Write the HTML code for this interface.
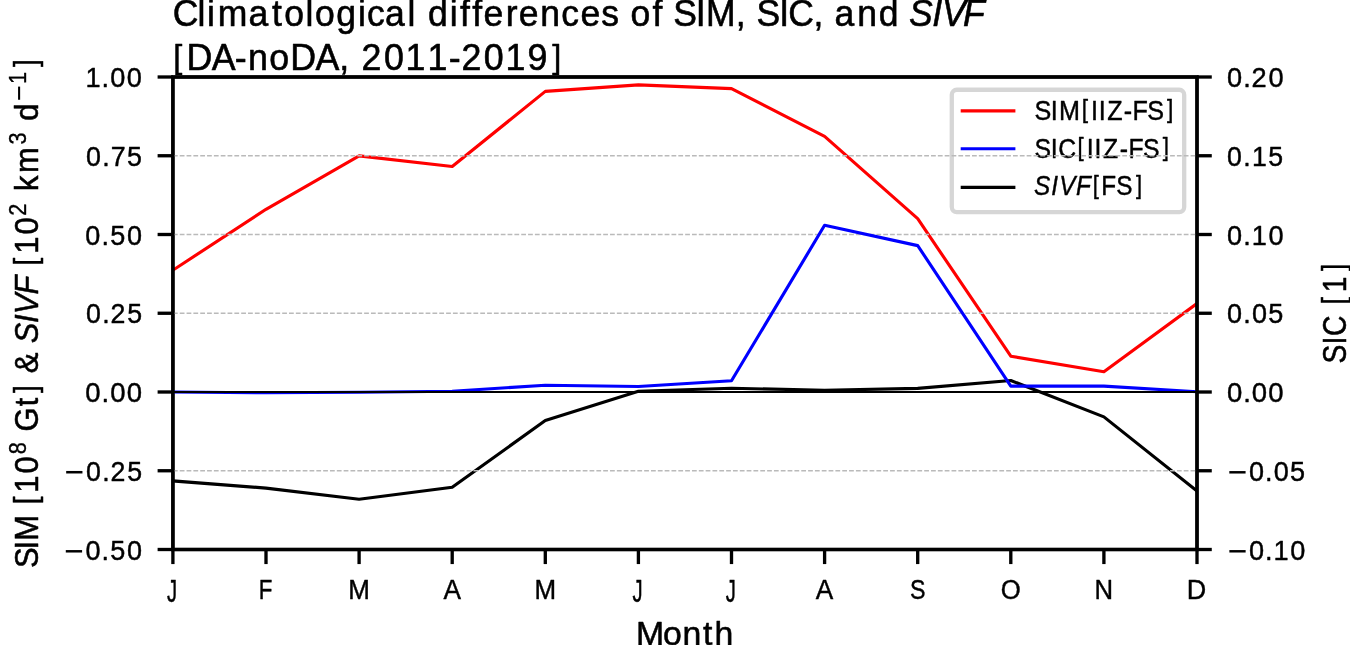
<!DOCTYPE html>
<html lang="en">
<head>
<meta charset="utf-8">
<title>Climatological differences of SIM, SIC, and SIVF</title>
<style>
html,body{margin:0;padding:0;background:#fff;}
body{width:1350px;height:645px;overflow:hidden;}
svg{display:block;will-change:transform;}
svg text{font-family:"Liberation Sans",sans-serif;fill:#000;stroke:#000;stroke-linejoin:round;font-kerning:none;white-space:pre;}
</style>
</head>
<body>
<svg width="1350" height="645" viewBox="0 0 1350 645" xml:space="preserve" role="img" aria-label="Line chart: climatological differences of SIM, SIC and SIVF by month">
<rect width="1350" height="645" fill="#fff"/>
<defs><clipPath id="ax"><rect x="172.9" y="77" width="1024.1" height="472.5"/></clipPath></defs>
<!-- ax1 data lines -->
<g clip-path="url(#ax)" fill="none" stroke-width="3.125" stroke-linejoin="round" stroke-linecap="square">
<polyline stroke="#f00" points="172.9,270.2 266,209.3 359.1,155.9 452.2,166.5 545.3,91.4 638.4,84.9 731.5,88.6 824.6,136.3 917.7,218.7 1010.8,356.2 1103.9,371.8 1197,303.5"/>
<polyline stroke="#000" points="172.9,480.9 266,488.1 359.1,499.3 452.2,487.3 545.3,420.5 638.4,391.2 731.5,388.3 824.6,390.2 917.7,388.4 1010.8,380.5 1103.9,416.9 1197,490.9"/>
</g>
<!-- ticks and spines -->
<g stroke="#000" stroke-width="3.33" fill="none">
<line x1="172.9" y1="549.5" x2="172.9" y2="564.08"/>
<line x1="266" y1="549.5" x2="266" y2="564.08"/>
<line x1="359.1" y1="549.5" x2="359.1" y2="564.08"/>
<line x1="452.2" y1="549.5" x2="452.2" y2="564.08"/>
<line x1="545.3" y1="549.5" x2="545.3" y2="564.08"/>
<line x1="638.4" y1="549.5" x2="638.4" y2="564.08"/>
<line x1="731.5" y1="549.5" x2="731.5" y2="564.08"/>
<line x1="824.6" y1="549.5" x2="824.6" y2="564.08"/>
<line x1="917.7" y1="549.5" x2="917.7" y2="564.08"/>
<line x1="1010.8" y1="549.5" x2="1010.8" y2="564.08"/>
<line x1="1103.9" y1="549.5" x2="1103.9" y2="564.08"/>
<line x1="1197" y1="549.5" x2="1197" y2="564.08"/>
<line x1="157.6" y1="77" x2="172.9" y2="77"/>
<line x1="1197" y1="77" x2="1211.78" y2="77"/>
<line x1="157.6" y1="155.75" x2="172.9" y2="155.75"/>
<line x1="1197" y1="155.75" x2="1211.78" y2="155.75"/>
<line x1="157.6" y1="234.5" x2="172.9" y2="234.5"/>
<line x1="1197" y1="234.5" x2="1211.78" y2="234.5"/>
<line x1="157.6" y1="313.25" x2="172.9" y2="313.25"/>
<line x1="1197" y1="313.25" x2="1211.78" y2="313.25"/>
<line x1="157.6" y1="392" x2="172.9" y2="392"/>
<line x1="1197" y1="392" x2="1211.78" y2="392"/>
<line x1="157.6" y1="470.75" x2="172.9" y2="470.75"/>
<line x1="1197" y1="470.75" x2="1211.78" y2="470.75"/>
<line x1="157.6" y1="549.5" x2="172.9" y2="549.5"/>
<line x1="1197" y1="549.5" x2="1211.78" y2="549.5"/>
<rect x="172.9" y="77" width="1024.1" height="472.5" stroke-linejoin="miter"/>
</g>
<!-- legend (ax1) -->
<rect x="951.8" y="89.75" width="232.4" height="122.35" rx="5" ry="5" fill="#fff" fill-opacity="0.8" stroke="#ccc" stroke-opacity="0.8" stroke-width="4.3"/>
<g stroke-width="3.125" stroke-linecap="butt">
<line x1="960.7" y1="110.9" x2="1015.4" y2="110.9" stroke="#f00"/>
<line x1="960.7" y1="148.7" x2="1015.4" y2="148.7" stroke="#00f"/>
<line x1="960.7" y1="187.4" x2="1015.4" y2="187.4" stroke="#000"/>
</g>
<!-- legend labels -->
<text transform="translate(1033.98,120.1) scale(0.9115,1)" font-size="27.6" stroke-width="0.44"><tspan x="0.63 18.48 27.35" y="0">SIM</tspan><tspan x="52.29" y="-1.74" font-size="24.91" stroke-width="0.4">[</tspan><tspan x="62.64 71.05 80.43 98.63 108.14 124.24" y="0">IIZ-FS</tspan><tspan x="145.88" y="-1.74" font-size="24.91" stroke-width="0.4">]</tspan></text>
<text transform="translate(1033.98,158.1) scale(0.8989,1)" font-size="27.6" stroke-width="0.44"><tspan x="0.66 18.8 26.89" y="0">SIC</tspan><tspan x="48.32" y="-1.74" font-size="24.91" stroke-width="0.4">[</tspan><tspan x="58.81 67.34 76.92 95.32 105.03 121.35" y="0">IIZ-FS</tspan><tspan x="143.23" y="-1.74" font-size="24.91" stroke-width="0.4">]</tspan></text>
<text transform="translate(1034.55,195.7) scale(0.8816,1)" font-size="27.6" stroke-width="0.44"><tspan x="-0.61 18.85 28.06 47.16" y="-0.25" font-style="italic">SIVF</tspan><tspan x="65.9" y="-1.99" font-size="24.91" stroke-width="0.4">[</tspan><tspan x="75.57 92.79" y="-0.25">FS</tspan><tspan x="115.02" y="-1.99" font-size="24.91" stroke-width="0.4">]</tspan></text>
<!-- horizontal grid -->
<g stroke="#bababa" stroke-width="1.29" stroke-dasharray="4.77 2.06" fill="none">
<line x1="172.9" y1="155.75" x2="1197" y2="155.75"/>
<line x1="172.9" y1="234.5" x2="1197" y2="234.5"/>
<line x1="172.9" y1="313.25" x2="1197" y2="313.25"/>
<line x1="172.9" y1="470.75" x2="1197" y2="470.75"/>
</g>
<!-- ax2 data lines -->
<g clip-path="url(#ax)" fill="none" stroke-width="3.125" stroke-linejoin="round" stroke-linecap="square">
<polyline stroke="#00f" points="172.9,392 266,392.8 359.1,392.2 452.2,391.3 545.3,385.2 638.4,386.5 731.5,380.8 824.6,225.3 917.7,245.6 1010.8,386.1 1103.9,386.1 1197,391.7"/>
<line x1="172.9" y1="392.05" x2="1197" y2="392.05" stroke="#000" stroke-width="1.9" stroke-linecap="butt"/>
</g>
<!-- ax2 spines -->
<rect x="172.9" y="77" width="1024.1" height="472.5" fill="none" stroke="#000" stroke-width="3.33"/>
<!-- title -->
<text transform="translate(172.6,26) scale(0.9796,1)" font-size="36.27" stroke-width="0.58"><tspan x="0.13 25.35 35.12 46.08 77.54 101.44 114.11 135.77 145.33 166.97 189.28 198.33 216.81 239.81 248.71 260.7 283 293.48 305.84 317.38 340.05 353.4 375.32 396.62 416.52 437.65 455.61 467.43 489.83 500.59 510.98 534.16 544.41 574.83 585.8 596.19 619.37 628.54 654.26 665.24 675.75 699.01 720.97 742.41" y="-0.17">Climatological differences of SIM, SIC, and </tspan><tspan x="751.84 775.47 785.52 806.94" y="-0.17" font-style="italic">SIVF</tspan></text>
<text transform="translate(172.6,69.85) scale(0.9868,1)" font-size="36.27" stroke-width="0.58"><tspan x="0.65" y="-2.29" font-size="32.88" stroke-width="0.53">[</tspan><tspan x="13.97 39.59 63.1 76.45 98.08 119.19 144.81 168.97 179.9 191.5 214.12 236.11 258.27 279.87 292.72 315.34 337.33 359.56" y="0">DA-noDA, 2011-2019</tspan><tspan x="384.65" y="-2.29" font-size="32.88" stroke-width="0.53">]</tspan></text>
<!-- left axis tick labels -->
<text transform="translate(84.71,87) scale(0.9605,1)" font-size="28.26" stroke-width="0.45" x="0.83 17.59 26.59 43.89">1.00</text>
<text transform="translate(85.26,165.75) scale(0.9495,1)" font-size="28.26" stroke-width="0.45" x="0.7 17.84 26.93 44.07">0.75</text>
<text transform="translate(84.71,244.5) scale(0.9562,1)" font-size="28.26" stroke-width="0.45" x="0.69 17.69 26.64 44.15">0.50</text>
<text transform="translate(85.26,323.25) scale(0.9453,1)" font-size="28.26" stroke-width="0.45" x="0.71 17.94 26.78 44.33">0.25</text>
<text transform="translate(84.71,402) scale(0.9732,1)" font-size="28.26" stroke-width="0.45" x="0.66 17.31 26.14 43.13">0.00</text>
<text transform="translate(63.47,480.75) scale(0.9453,1)" font-size="28.26" stroke-width="0.45"><tspan x="1.17" y="3.64" font-size="35.49" stroke-width="0">−</tspan><tspan x="23.95 40.98 49.82 67.38" y="0">0.25</tspan></text>
<text transform="translate(62.93,559.5) scale(0.9562,1)" font-size="28.26" stroke-width="0.45"><tspan x="1.16" y="3.5" font-size="35.09" stroke-width="0">−</tspan><tspan x="23.58 40.47 49.42 66.94" y="0">0.50</tspan></text>
<!-- right axis tick labels -->
<text transform="translate(1226.4,87) scale(0.9626,1)" font-size="28.26" stroke-width="0.45" x="0.68 17.55 26.16 43.76">0.20</text>
<text transform="translate(1226.4,165.75) scale(0.943,1)" font-size="28.26" stroke-width="0.45" x="0.72 17.99 27.09 44.48">0.15</text>
<text transform="translate(1226.4,244.5) scale(0.9605,1)" font-size="28.26" stroke-width="0.45" x="0.68 17.59 26.45 43.89">0.10</text>
<text transform="translate(1226.4,323.25) scale(0.9562,1)" font-size="28.26" stroke-width="0.45" x="0.69 17.69 26.74 43.66">0.05</text>
<text transform="translate(1226.4,402) scale(0.9732,1)" font-size="28.26" stroke-width="0.45" x="0.66 17.31 26.14 43.13">0.00</text>
<text transform="translate(1226.4,480.75) scale(0.9562,1)" font-size="28.26" stroke-width="0.45"><tspan x="1.16" y="3.5" font-size="35.09" stroke-width="0">−</tspan><tspan x="23.58 40.47 49.53 66.45" y="0">0.05</tspan></text>
<text transform="translate(1226.4,559.5) scale(0.9605,1)" font-size="28.26" stroke-width="0.45"><tspan x="1.15" y="3.45" font-size="34.93" stroke-width="0">−</tspan><tspan x="23.44 40.27 49.13 66.57" y="0">0.10</tspan></text>
<!-- month tick labels -->
<text transform="translate(169.61,599) scale(0.6475,1)" font-size="31.19" stroke-width="0.5" x="-3.97" y="2.73">J</text>
<text transform="translate(257.99,599) scale(0.8086,1)" font-size="27.6" stroke-width="0.44" x="0.9">F</text>
<text transform="translate(347.86,599) scale(0.9406,1)" font-size="27.6" stroke-width="0.44" x="0.45">M</text>
<text transform="translate(443.3,599) scale(0.9503,1)" font-size="27.6" stroke-width="0.44" x="0.16">A</text>
<text transform="translate(534.06,599) scale(0.9406,1)" font-size="27.6" stroke-width="0.44" x="0.45">M</text>
<text transform="translate(635.11,599) scale(0.6475,1)" font-size="31.19" stroke-width="0.5" x="-3.97" y="2.73">J</text>
<text transform="translate(728.21,599) scale(0.6475,1)" font-size="31.19" stroke-width="0.5" x="-3.97" y="2.73">J</text>
<text transform="translate(815.7,599) scale(0.9503,1)" font-size="27.6" stroke-width="0.44" x="0.16">A</text>
<text transform="translate(909.3,599) scale(0.841,1)" font-size="27.6" stroke-width="0.44" x="0.79">S</text>
<text transform="translate(1000.55,599) scale(0.9326,1)" font-size="27.6" stroke-width="0.44" x="0.26">O</text>
<text transform="translate(1094.16,599) scale(0.9319,1)" font-size="27.6" stroke-width="0.44" x="0.48">N</text>
<text transform="translate(1186.47,599) scale(0.9761,1)" font-size="27.6" stroke-width="0.44" x="0.35">D</text>
<!-- axis labels -->
<text transform="translate(635.82,644.5) scale(1.0252,1)" font-size="32.97" stroke-width="0.53" x="0.29 26.46 45.5 65.58 76.75">Month</text>
<text transform="translate(38,568.68) rotate(-90) scale(0.9204,1)" font-size="33.63" stroke-width="0.54"><tspan x="0.63 20.89 30.48 58.58" y="-0.02">SIM </tspan><tspan x="69.95" y="-2.15" font-size="30.49" stroke-width="0.49">[</tspan><tspan x="82.59 103.54" y="-0.02">10</tspan><tspan x="124.33" y="-12.13" font-size="23.54" stroke-width="0.38">8</tspan><tspan x="139.05 149 176.41" y="-0.02"> Gt</tspan><tspan x="190.86" y="-2.15" font-size="30.49" stroke-width="0.49">]</tspan><tspan x="200.32 212.43 236.19" y="-0.02"> &amp; </tspan><tspan x="245.02 266.99 276.39 297.77" y="-0.02" font-style="italic">SIVF</tspan><tspan x="318.11" y="-0.02"> </tspan><tspan x="329.49" y="-2.15" font-size="30.49" stroke-width="0.49">[</tspan><tspan x="342.12 363.08" y="-0.02">10</tspan><tspan x="383.56" y="-12.13" font-size="23.54" stroke-width="0.38">2</tspan><tspan x="398.58 410.3 429.89" y="-0.02"> km</tspan><tspan x="460.79" y="-12.13" font-size="23.54" stroke-width="0.38">3</tspan><tspan x="475.48 486.68" y="-0.02"> d</tspan><tspan x="507.89" y="-9.32" font-size="29.47" stroke-width="0">−</tspan><tspan x="526.7" y="-12.13" font-size="23.54" stroke-width="0.38">1</tspan><tspan x="545.17" y="-2.15" font-size="30.49" stroke-width="0.49">]</tspan></text>
<text transform="translate(1346.4,364.18) rotate(-90) scale(0.843,1)" font-size="33.63" stroke-width="0.54"><tspan x="0.82 23.24 33.3 58.08" y="0">SIC </tspan><tspan x="70.98" y="-2.13" font-size="30.49" stroke-width="0.49">[</tspan><tspan x="85.19" y="0">1</tspan><tspan x="110.6" y="-2.13" font-size="30.49" stroke-width="0.49">]</tspan></text>
</svg>
</body>
</html>
